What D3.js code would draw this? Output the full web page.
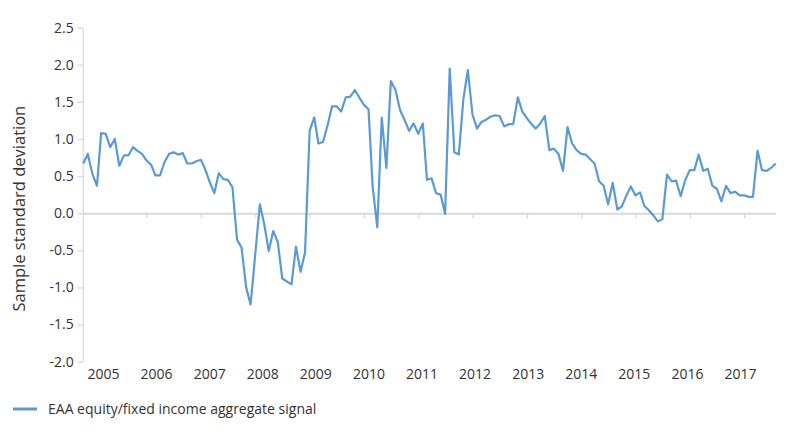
<!DOCTYPE html>
<html>
<head>
<meta charset="utf-8">
<script src="https://cdn.jsdelivr.net/npm/d3@7"></script>
<style>
  body { margin: 0; background: #fff; }
  text { font-family: "Open Sans", "Noto Sans", sans-serif; fill: #333; }
</style>
</head>
<body>
<svg id="chart" width="800" height="431"></svg>
<script>
// monthly signal, Nov 2004 .. Aug 2017
var signal = [
  0.67, 0.80, 0.53, 0.37, 1.08, 1.07, 0.89, 1.00, 0.64, 0.78,
  0.78, 0.89, 0.84, 0.80, 0.71, 0.65, 0.51, 0.51, 0.69, 0.80,
  0.82, 0.79, 0.81, 0.67, 0.67, 0.70, 0.72, 0.58, 0.42, 0.27,
  0.54, 0.46, 0.45, 0.35, -0.36, -0.46, -1.00, -1.23, -0.56, 0.12,
  -0.14, -0.51, -0.24, -0.39, -0.88, -0.92, -0.96, -0.45, -0.79, -0.53,
  1.11, 1.29, 0.94, 0.96, 1.18, 1.44, 1.44, 1.37, 1.56, 1.57,
  1.66, 1.56, 1.46, 1.40, 0.35, -0.19, 1.29, 0.61, 1.78, 1.66,
  1.39, 1.26, 1.11, 1.21, 1.07, 1.21, 0.45, 0.47, 0.27, 0.25,
  -0.01, 1.95, 0.82, 0.79, 1.54, 1.93, 1.33, 1.14, 1.23, 1.26,
  1.30, 1.32, 1.31, 1.17, 1.20, 1.20, 1.56, 1.37, 1.28, 1.20,
  1.14, 1.21, 1.31, 0.85, 0.87, 0.80, 0.57, 1.16, 0.94, 0.85,
  0.80, 0.79, 0.73, 0.67, 0.43, 0.37, 0.12, 0.41, 0.05, 0.09,
  0.24, 0.36, 0.24, 0.28, 0.10, 0.04, -0.03, -0.11, -0.08, 0.52,
  0.43, 0.44, 0.23, 0.44, 0.58, 0.58, 0.79, 0.57, 0.60, 0.37,
  0.33, 0.16, 0.37, 0.27, 0.29, 0.24, 0.24, 0.22, 0.22, 0.84,
  0.58, 0.57, 0.61, 0.67
];
var yearLabels = ['2005', '2006', '2007', '2008', '2009', '2010', '2011',
                  '2012', '2013', '2014', '2015', '2016', '2017'];
var yTicks = [-2.0, -1.5, -1.0, -0.5, 0.0, 0.5, 1.0, 1.5, 2.0, 2.5];
var seriesName = 'EAA equity/fixed income aggregate signal';
var yTitle = 'Sample standard deviation';

var months = d3.timeMonth.range(new Date(2004, 10, 1), new Date(2017, 8, 1));
var data = months.map(function (d, i) { return { date: d, value: signal[i] }; });

var svg = d3.select('#chart');
var gridColor = '#d9d9d9';
var lineColor = '#5b9bd5';

var x = d3.scaleTime()
  .domain(d3.extent(months))
  .range([83.3, 775.7]);

var y = d3.scaleLinear()
  .domain([-2, 2.5])
  .range([361.6, 27.7]);

var labelX = d3.scalePoint()
  .domain(yearLabels)
  .range([103, 740]);

// y axis
var yAxis = svg.append('g')
  .attr('transform', 'translate(82.7,0)')
  .call(d3.axisLeft(y)
    .tickValues(yTicks)
    .tickSize(5)
    .tickSizeOuter(0)
    .tickPadding(4)
    .tickFormat(function (d) { return d.toFixed(1); }));
yAxis.selectAll('path, line').attr('stroke', gridColor).attr('stroke-width', 1.3);
yAxis.selectAll('text').style('font-size', '14px').attr('fill', '#333');

// zero axis with year ticks
var yearStarts = yearLabels.slice(1).map(function (s) { return new Date(+s, 0, 1); });
var xAxis = svg.append('g')
  .attr('transform', 'translate(0,' + y(0) + ')')
  .call(d3.axisBottom(x)
    .tickValues(yearStarts)
    .tickSize(5)
    .tickSizeOuter(0)
    .tickFormat(''));
xAxis.select('.domain').attr('stroke', gridColor).attr('stroke-width', 2);
xAxis.selectAll('.tick line').attr('stroke', gridColor).attr('stroke-width', 1.3);

// year labels along the bottom
var labelAxis = svg.append('g')
  .attr('transform', 'translate(0,369)')
  .call(d3.axisBottom(labelX).tickSize(0).tickPadding(0));
labelAxis.select('.domain').remove();
labelAxis.selectAll('text').style('font-size', '14px').attr('fill', '#333');

// y title
svg.append('text')
  .attr('transform', 'translate(25,' + ((y(2.5) + y(-2)) / 2 + 14) + ') rotate(-90)')
  .attr('text-anchor', 'middle')
  .style('font-size', '16.5px')
  .text(yTitle);

// series
var line = d3.line()
  .x(function (d) { return x(d.date); })
  .y(function (d) { return y(d.value); });

svg.append('path')
  .datum(data)
  .attr('fill', 'none')
  .attr('stroke', lineColor)
  .attr('stroke-width', 2.2)
  .attr('stroke-linejoin', 'round')
  .attr('d', line);

// legend
var legend = svg.append('g').attr('transform', 'translate(13,409)');
legend.append('line')
  .attr('x1', 0).attr('x2', 24)
  .attr('stroke', lineColor)
  .attr('stroke-width', 3);
legend.append('text')
  .attr('x', 35)
  .attr('dy', '0.35em')
  .style('font-size', '14px')
  .text(seriesName);
</script>
</body>
</html>
